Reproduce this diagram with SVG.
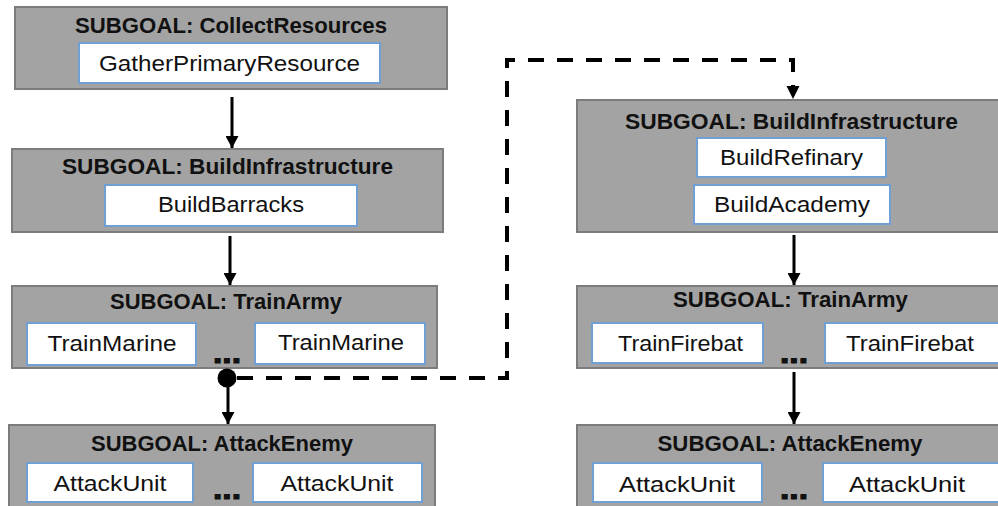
<svg xmlns="http://www.w3.org/2000/svg" width="998" height="506" viewBox="0 0 998 506">
  <defs>
    <style>
      .goal { fill: #a3a3a3; stroke: #7c7c7c; stroke-width: 2; }
      .task { fill: #ffffff; stroke: #6f9fd3; stroke-width: 2; }
      .title { font-family: "Liberation Sans", Arial, sans-serif; font-weight: bold; font-size: 22px; fill: #111111; text-anchor: middle; }
      .label { font-family: "Liberation Sans", Arial, sans-serif; font-size: 22px; fill: #111111; text-anchor: middle; }
      .dots { font-family: "Liberation Sans", Arial, sans-serif; font-weight: bold; font-size: 30px; fill: #111111; stroke: #111111; stroke-width: 1.2; text-anchor: middle; }
      .edge { stroke: #000000; stroke-width: 3; fill: none; }
      .dash { stroke: #000000; stroke-width: 4; fill: none; stroke-dasharray: 16 13; }
    </style>
    <marker id="arrow" viewBox="0 0 12 13" refX="12" refY="6.5" markerWidth="12" markerHeight="13" markerUnits="userSpaceOnUse" orient="auto">
      <path d="M0,0 L12,6.5 L0,13 Z" fill="#000000"/>
    </marker>
  </defs>

  <rect width="998" height="506" fill="#ffffff"/>

  <!-- Left plan -->
  <g id="collect-resources">
    <rect class="goal" x="15" y="7" width="432" height="82"/>
    <text class="title" x="231" y="33" textLength="312" lengthAdjust="spacingAndGlyphs">SUBGOAL: CollectResources</text>
    <rect class="task" x="79" y="43" width="301" height="40"/>
    <text class="label" x="229.5" y="71" textLength="261" lengthAdjust="spacingAndGlyphs">GatherPrimaryResource</text>
  </g>

  <g id="build-infrastructure-left">
    <rect class="goal" x="12" y="149" width="431" height="83"/>
    <text class="title" x="227.5" y="174" textLength="331" lengthAdjust="spacingAndGlyphs">SUBGOAL: BuildInfrastructure</text>
    <rect class="task" x="105" y="185" width="252" height="41"/>
    <text class="label" x="231" y="212" textLength="146" lengthAdjust="spacingAndGlyphs">BuildBarracks</text>
  </g>

  <g id="train-army-left">
    <rect class="goal" x="12" y="286" width="425" height="82"/>
    <text class="title" x="226" y="309" textLength="232" lengthAdjust="spacingAndGlyphs">SUBGOAL: TrainArmy</text>
    <rect class="task" x="27" y="323" width="169" height="42"/>
    <text class="label" x="112" y="351" textLength="129" lengthAdjust="spacingAndGlyphs">TrainMarine</text>
    <rect class="task" x="255" y="323" width="170" height="41"/>
    <text class="label" x="341" y="350" textLength="126" lengthAdjust="spacingAndGlyphs">TrainMarine</text>
    <text class="dots" x="227" y="363" textLength="28" lengthAdjust="spacingAndGlyphs">...</text>
  </g>

  <g id="attack-enemy-left">
    <rect class="goal" x="9" y="425" width="426" height="90"/>
    <text class="title" x="222" y="451" textLength="262" lengthAdjust="spacingAndGlyphs">SUBGOAL: AttackEnemy</text>
    <rect class="task" x="27" y="463" width="166" height="39"/>
    <text class="label" x="110" y="491" textLength="113" lengthAdjust="spacingAndGlyphs">AttackUnit</text>
    <rect class="task" x="253" y="463" width="169" height="39"/>
    <text class="label" x="337" y="491" textLength="113" lengthAdjust="spacingAndGlyphs">AttackUnit</text>
    <text class="dots" x="227" y="499" textLength="28" lengthAdjust="spacingAndGlyphs">...</text>
  </g>

  <!-- Right plan -->
  <g id="build-infrastructure-right">
    <rect class="goal" x="577" y="100" width="430" height="132"/>
    <text class="title" x="791.5" y="129" textLength="333" lengthAdjust="spacingAndGlyphs">SUBGOAL: BuildInfrastructure</text>
    <rect class="task" x="697" y="138" width="189" height="39"/>
    <text class="label" x="791.5" y="165" textLength="143" lengthAdjust="spacingAndGlyphs">BuildRefinary</text>
    <rect class="task" x="694" y="185" width="196" height="39"/>
    <text class="label" x="792" y="212" textLength="156" lengthAdjust="spacingAndGlyphs">BuildAcademy</text>
  </g>

  <g id="train-army-right">
    <rect class="goal" x="577" y="286" width="430" height="82"/>
    <text class="title" x="790.5" y="307" textLength="235" lengthAdjust="spacingAndGlyphs">SUBGOAL: TrainArmy</text>
    <rect class="task" x="592" y="323" width="171" height="40"/>
    <text class="label" x="680.5" y="351" textLength="125" lengthAdjust="spacingAndGlyphs">TrainFirebat</text>
    <rect class="task" x="825" y="323" width="180" height="40"/>
    <text class="label" x="910" y="351" textLength="128" lengthAdjust="spacingAndGlyphs">TrainFirebat</text>
    <text class="dots" x="794" y="363" textLength="28" lengthAdjust="spacingAndGlyphs">...</text>
  </g>

  <g id="attack-enemy-right">
    <rect class="goal" x="577" y="425" width="430" height="90"/>
    <text class="title" x="790" y="451" textLength="265" lengthAdjust="spacingAndGlyphs">SUBGOAL: AttackEnemy</text>
    <rect class="task" x="593" y="463" width="169" height="39"/>
    <text class="label" x="677" y="492" textLength="116" lengthAdjust="spacingAndGlyphs">AttackUnit</text>
    <rect class="task" x="823" y="463" width="180" height="39"/>
    <text class="label" x="907" y="492" textLength="116" lengthAdjust="spacingAndGlyphs">AttackUnit</text>
    <text class="dots" x="794" y="499" textLength="28" lengthAdjust="spacingAndGlyphs">...</text>
  </g>

  <!-- Connectors -->
  <g id="connectors">
    <line class="edge" x1="232" y1="97" x2="232" y2="148" marker-end="url(#arrow)"/>
    <line class="edge" x1="230" y1="236" x2="230" y2="285" marker-end="url(#arrow)"/>
    <line class="edge" x1="228" y1="378" x2="228" y2="424" marker-end="url(#arrow)"/>
    <line class="edge" x1="794" y1="235" x2="794" y2="285" marker-end="url(#arrow)"/>
    <line class="edge" x1="794" y1="372" x2="794" y2="424" marker-end="url(#arrow)"/>
    <path class="dash" d="M237,378 L507,378 L507,60 L793,60 L793,86"/>
    <path d="M786.5,86 L799.5,86 L793,99 Z" fill="#000000"/>
    <circle cx="227" cy="378" r="9.5" fill="#000000"/>
  </g>
</svg>
